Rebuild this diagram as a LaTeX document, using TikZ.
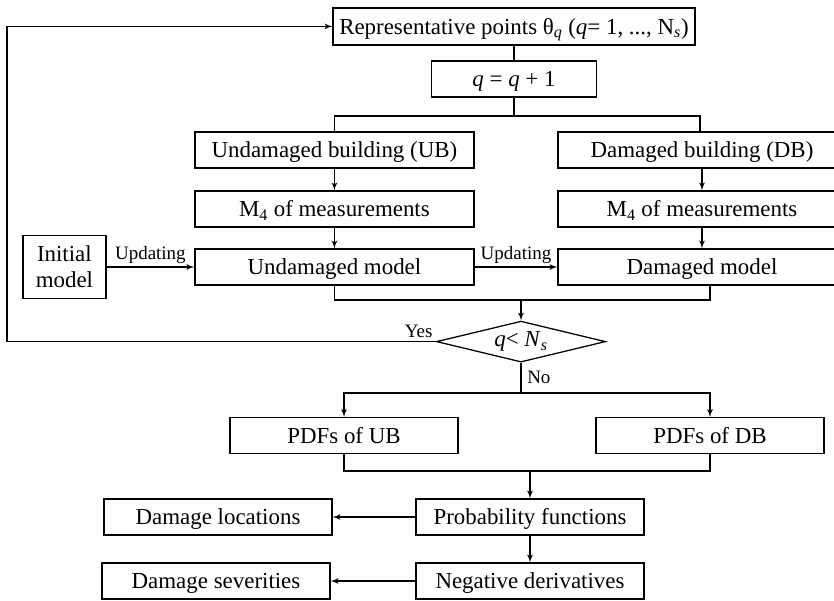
\documentclass[tikz,border=0pt]{standalone}
\usepackage{fontspec}
\setmainfont{Liberation Serif}
\usetikzlibrary{arrows,shapes.geometric}

\begin{document}
\begin{tikzpicture}[->,>=latex',auto,node distance=1.475cm,line width=0.9pt]
	\tikzstyle{block}=[draw,rectangle,inner sep=0pt,minimum height=0.9cm,
		text height=12pt,text depth=1pt,font=\fontsize{16.3}{18.5}\selectfont]
	\tikzstyle{narrow}=[block,minimum width=5.7cm]
	\tikzstyle{wide}=[block,minimum width=6.975cm]
	\tikzstyle{wider}=[block,minimum width=7.2cm]
	\tikzstyle{decision}=[draw,diamond,aspect=4,inner sep=0pt,
		minimum width=4.225cm,minimum height=1.025cm,font=\fontsize{16.3}{18.5}\selectfont]
	\tikzstyle{lbl}=[font=\fontsize{13.5}{15}\selectfont,inner sep=2pt]

	\useasboundingbox (0,0) rectangle (20.85,-15);

	\node[block,minimum width=9.05cm,minimum height=0.925cm] (top) at (12.85,-0.66)
		{Representative points θ\textsubscript{\textit{q}} (\textit{q}= 1, ..., N\textsubscript{\textit{s}})};
	\node[block,minimum width=4.125cm] (qinc) [below of=top,node distance=1.315cm]
		{\textit{q} = \textit{q} + 1};

	\node[wide]  (ub)  at (8.36,-3.75)             {Undamaged building (UB)};
	\node[wide]  (m4u) [below of=ub]               {M\textsubscript{4} of measurements};
	\node[wide]  (um)  [below of=m4u,node distance=1.45cm] {Undamaged model};
	\node[wider] (db)  [right of=ub,node distance=9.19cm]  {Damaged building (DB)};
	\node[wider] (m4d) [below of=db]               {M\textsubscript{4} of measurements};
	\node[wider] (dm)  [below of=m4d,node distance=1.45cm] {Damaged model};
	\node[block,minimum width=2.075cm,minimum height=1.575cm,text height=,text depth=,align=center]
		(init) [left of=um,node distance=6.75cm] {Initial\\model};

	\node[decision] (dec) at (13.025,-8.54) {\textit{q}< \textit{N}\textsubscript{\textit{s}}};

	\node[narrow] (pub)  at (8.6,-10.89)                     {PDFs of UB};
	\node[narrow] (pdb)  [right of=pub,node distance=9.15cm]  {PDFs of DB};
	\node[narrow] (prob) at (13.25,-12.925)                  {Probability functions};
	\node[narrow] (neg)  [below of=prob,node distance=1.6cm]  {Negative derivatives};
	\node[narrow] (dloc) [left of=prob,node distance=7.8cm]   {Damage locations};
	\node[narrow] (dsev) [left of=neg,node distance=7.85cm]   {Damage severities};

	% junction points
	\coordinate (br) at (qinc.south |- 0,-2.9);
	\coordinate (j1) at (dec.north |- 0,-7.5);
	\coordinate (j2) at (dec.south |- 0,-9.825);
	\coordinate (j3) at (prob.north |- 0,-11.775);
	\coordinate (fb) at (0.175,-0.66);

	\draw[-] (top) -- (qinc);
	\draw[-] (qinc) -- (br);
	\draw[-] (ub.north) |- (br) -| ([xshift=-0.05cm]db.north);

	\path (ub)   edge (m4u)
	      (m4u)  edge (um)
	      (db)   edge (m4d)
	      (m4d)  edge (dm)
	      (init) edge node[lbl] {Updating} (um)
	      (um)   edge node[lbl] {Updating} (dm)
	      (prob) edge (neg)
	      (prob) edge (dloc)
	      (neg)  edge (dsev);

	\draw[-] (um.south) |- (j1) -| ([xshift=0.2cm]dm.south);
	\draw (j1) -- (dec.north);

	% loop back while q < Ns
	\draw (dec.west) -- node[lbl,pos=0,above left] {Yes} (dec.west -| fb) -- (fb) -- (top.west);

	\draw[-] (dec.south) -- node[lbl,right,inner sep=4pt] {No} (j2);
	\draw (j2) -| (pub.north);
	\draw (j2) -| (pdb.north);

	\draw[-] (pub.south) |- (j3) -| (pdb.south);
	\draw (j3) -- (prob.north);

\end{tikzpicture}
\end{document}
